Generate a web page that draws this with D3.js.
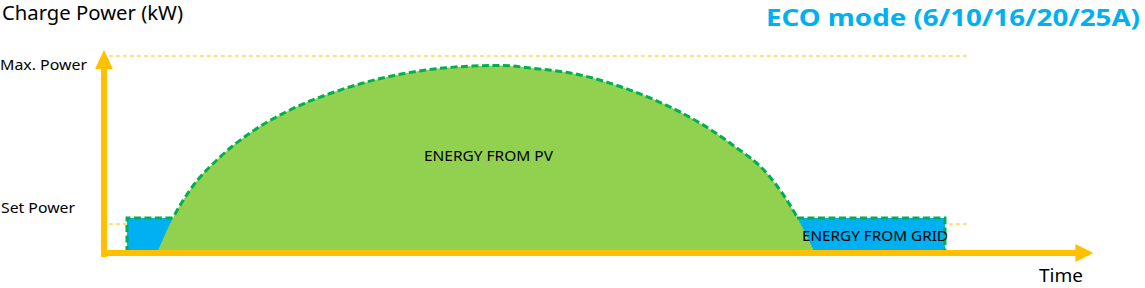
<!DOCTYPE html>
<html>
<head>
<meta charset="utf-8">
<script src="https://cdn.jsdelivr.net/npm/d3@7"></script>
<style>
	body { margin: 0; background: #fff; }
	text { font-family: "Noto Sans", "Open Sans", sans-serif; fill: #000; }
</style>
</head>
<body>
<div class="chart"></div>
<script>
// PV charging curve (time in % of window, power in % of max power)
var pvTime = [5.46, 7.11, 8.87, 11.96, 15.05, 19.18, 24.33, 31.24, 38.0, 41.0, 43.92, 49.07, 54.23, 59.38, 64.54, 68.66, 71.44, 73.3];
var pvPower = [0, 17.8, 32.0, 48.7, 60.9, 72.6, 82.7, 91.4, 94.9, 95.2, 93.9, 90.4, 82.7, 71.6, 55.8, 38.6, 18.3, 0];

// grid top-up sessions at set power
var gridStart = [2.37, 71.44];
var gridEnd = [7.11, 86.7];
var gridPower = 17.8;

// guide levels on the power axis
var levelNames = ["Max. Power", "Set Power"];
var levelValues = [100, 14.7];
var guideEnd = 89;

var chartTitle = "Charge Power (kW)";
var modeTitle = "ECO mode (6/10/16/20/25A)";
var xTitle = "Time";
var pvLabel = "ENERGY FROM PV";
var gridLabel = "ENERGY FROM GRID";

var width = 1145, height = 288;
var orange = "#FFC000", green = "#92D050", dark_green = "#00B050", blue = "#00B0F0";

var svg = d3.select(".chart").append("svg")
	.attr("width", width)
	.attr("height", height);

var x = d3.scaleLinear().domain([0, 100]).range([104, 1074]);
var y = d3.scaleLinear().domain([0, 100]).range([253, 56]);

var pv = pvTime.map(function (t, i) { return [t, pvPower[i]]; });

// guide lines (behind everything)
svg.append("g").selectAll("line")
	.data(levelValues)
	.enter().append("line")
	.attr("x1", x(0.5))
	.attr("x2", x(guideEnd))
	.attr("y1", function (d) { return y(d); })
	.attr("y2", function (d) { return y(d); })
	.attr("stroke", orange)
	.attr("stroke-width", 1)
	.attr("stroke-dasharray", "4,3");

// blue grid boxes
svg.append("g").selectAll("rect")
	.data(gridStart)
	.enter().append("rect")
	.attr("x", function (d) { return x(d); })
	.attr("y", y(gridPower))
	.attr("width", function (d, i) { return x(gridEnd[i]) - x(d); })
	.attr("height", y(0) - y(gridPower))
	.attr("fill", blue);

// PV area
var area = d3.area()
	.x(function (d) { return x(d[0]); })
	.y0(y(0))
	.y1(function (d) { return y(d[1]); })
	.curve(d3.curveMonotoneX);

svg.append("path")
	.datum(pv)
	.attr("d", area)
	.attr("fill", green);

// dashed outline: PV curve above set power
svg.append("clipPath").attr("id", "above")
	.append("rect")
	.attr("x", 0).attr("y", 0)
	.attr("width", width).attr("height", y(gridPower));

var line = d3.line()
	.x(function (d) { return x(d[0]); })
	.y(function (d) { return y(d[1]); })
	.curve(d3.curveMonotoneX);

svg.append("path")
	.datum(pv)
	.attr("d", line)
	.attr("clip-path", "url(#above)")
	.attr("fill", "none")
	.attr("stroke", dark_green)
	.attr("stroke-width", 3)
	.attr("stroke-dasharray", "7,3.5");

// dashed outline: grid boxes
var outlines = [
	[[gridStart[0], 0], [gridStart[0], gridPower], [gridEnd[0], gridPower]],
	[[gridStart[1], gridPower], [gridEnd[1], gridPower], [gridEnd[1], 0]]
];
svg.append("g").selectAll("path")
	.data(outlines)
	.enter().append("path")
	.attr("d", d3.line().x(function (d) { return x(d[0]); }).y(function (d) { return y(d[1]); }))
	.attr("fill", "none")
	.attr("stroke", dark_green)
	.attr("stroke-width", 3)
	.attr("stroke-dasharray", "7,3.5");

// axes with arrow heads
svg.append("line")
	.attr("x1", x(0)).attr("x2", x(0))
	.attr("y1", y(0) + 4).attr("y2", y(100) + 12)
	.attr("stroke", orange).attr("stroke-width", 6);
svg.append("path")
	.attr("d", "M" + x(0) + "," + (y(100) - 6) + "L" + (x(0) - 9) + "," + (y(100) + 13) + "L" + (x(0) + 9) + "," + (y(100) + 13) + "Z")
	.attr("fill", orange);

svg.append("line")
	.attr("x1", x(0) - 3).attr("x2", x(102) - 16)
	.attr("y1", y(0)).attr("y2", y(0))
	.attr("stroke", orange).attr("stroke-width", 6);
svg.append("path")
	.attr("d", "M" + x(102) + "," + y(0) + "L" + (x(102) - 18) + "," + (y(0) - 9) + "L" + (x(102) - 18) + "," + (y(0) + 9) + "Z")
	.attr("fill", orange);

// texts
function label(txt, px, py, size, len, weight) {
	return svg.append("text")
		.attr("x", px)
		.attr("y", py)
		.attr("textLength", len)
		.attr("lengthAdjust", "spacingAndGlyphs")
		.style("font-size", size + "px")
		.style("font-weight", weight || "normal")
		.text(txt);
}

label(chartTitle, 2, 20, 19, 181);
label(modeTitle, 766, 26, 24, 374, "bold").style("fill", blue);
label(levelNames[0], 0, y(levelValues[0]) + 14, 15, 87);
label(levelNames[1], 1, y(levelValues[1]) - 11, 15, 74);
label(xTitle, 1039, 282, 18, 44);
label(pvLabel, 424, 161, 13.5, 129);
label(gridLabel, 802, 241, 13.5, 146);
</script>
</body>
</html>
